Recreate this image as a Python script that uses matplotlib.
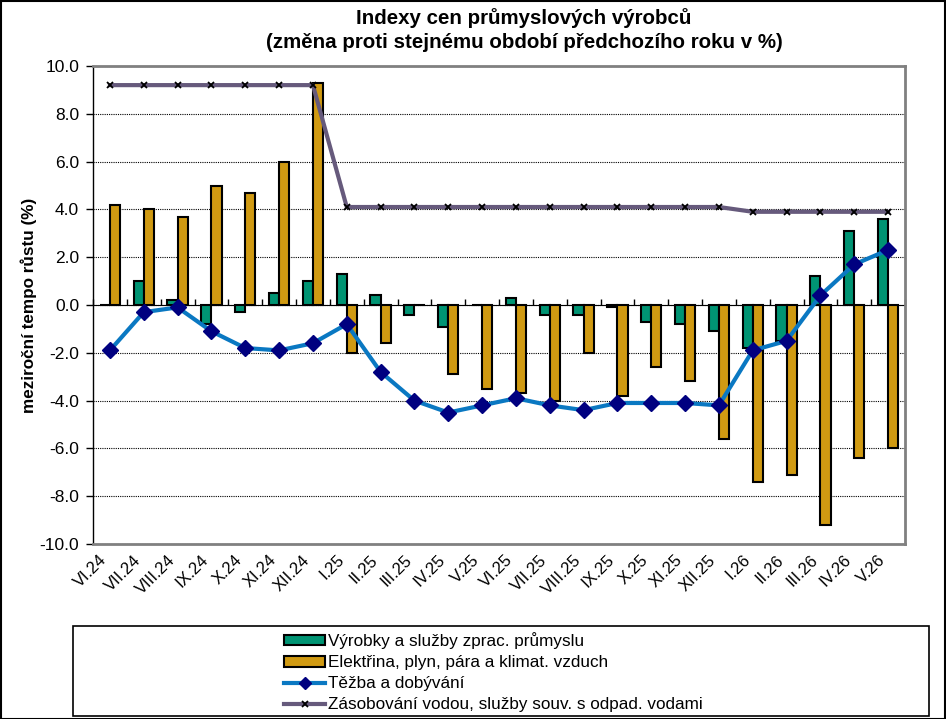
import numpy as np
import matplotlib
matplotlib.use("Agg")
import matplotlib.pyplot as plt
from matplotlib.patches import Rectangle, Patch
from matplotlib.lines import Line2D

plt.rcParams['font.family'] = ['Liberation Sans', 'DejaVu Sans']

categories = ["VI.24", "VII.24", "VIII.24", "IX.24", "X.24", "XI.24", "XII.24",
              "I.25", "II.25", "III.25", "IV.25", "V.25", "VI.25", "VII.25",
              "VIII.25", "IX.25", "X.25", "XI.25", "XII.25",
              "I.26", "II.26", "III.26", "IV.26", "V.26"]

vyrobky = [0.0, 1.0, 0.2, -0.8, -0.3, 0.5, 1.0,
           1.3, 0.4, -0.4, -0.9, 0.0, 0.3, -0.4,
           -0.4, -0.1, -0.7, -0.8, -1.1,
           -1.8, -1.5, 1.2, 3.1, 3.6]

elektrina = [4.2, 4.0, 3.7, 5.0, 4.7, 6.0, 9.3,
             -2.0, -1.6, 0.0, -2.9, -3.5, -3.7, -4.0,
             -2.0, -3.8, -2.6, -3.2, -5.6,
             -7.4, -7.1, -9.2, -6.4, -6.0]

tezba = [-1.9, -0.3, -0.1, -1.1, -1.8, -1.9, -1.6,
         -0.8, -2.8, -4.0, -4.5, -4.2, -3.9, -4.2,
         -4.4, -4.1, -4.1, -4.1, -4.2,
         -1.9, -1.5, 0.4, 1.7, 2.3]

voda = [9.2, 9.2, 9.2, 9.2, 9.2, 9.2, 9.2,
        4.1, 4.1, 4.1, 4.1, 4.1, 4.1, 4.1,
        4.1, 4.1, 4.1, 4.1, 4.1,
        3.9, 3.9, 3.9, 3.9, 3.9]

series_names = ["Výrobky a služby zprac. průmyslu",
                "Elektřina, plyn, pára a klimat. vzduch",
                "Těžba a dobývání",
                "Zásobování vodou, služby souv. s odpad. vodami"]

c_green = "#009473"
c_orange = "#D09A12"
c_blue = "#0A78C2"
c_navy = "#000080"
c_purple = "#665A7C"

W, H = 946, 719
fig = plt.figure(figsize=(W / 100, H / 100), dpi=100)
ax = fig.add_axes([93 / W, 1 - 544 / H, (905 - 93) / W, (544 - 66) / H])

x = np.arange(len(categories))
bw = 0.3
ax.bar(x - bw / 2, vyrobky, width=bw, color=c_green, edgecolor="black", linewidth=1.5, zorder=3)
ax.bar(x + bw / 2, elektrina, width=bw, color=c_orange, edgecolor="black", linewidth=1.5, zorder=3)
ax.plot(x, voda, color=c_purple, linewidth=3, marker="x", markersize=4.5,
        markeredgecolor="black", markeredgewidth=1.3, zorder=4)
ax.plot(x, tezba, color=c_blue, linewidth=3, marker="D", markersize=8.5,
        markerfacecolor=c_navy, markeredgecolor=c_navy, zorder=5)

ax.set_xlim(-0.5, len(categories) - 0.5)
ax.set_ylim(-10, 10)
ax.set_yticks(np.arange(-10, 10.1, 2))
ax.set_yticklabels([f"{v:.1f}" for v in np.arange(-10, 10.1, 2)], fontsize=12.5)
ax.tick_params(axis="y", direction="out", length=5, width=1, pad=5, colors="black")
ax.yaxis.grid(True, color="black", linestyle=(0, (1, 1)), linewidth=0.8, zorder=0)
ax.set_axisbelow(True)

ax.set_xticks(x)
ax.set_xticklabels(categories, rotation=45, ha="right", va="top", fontsize=12)
ax.tick_params(axis="x", length=0, pad=6)

for s in ["top", "right", "bottom"]:
    ax.spines[s].set_color("#808080")
    ax.spines[s].set_linewidth(2)
ax.spines["left"].set_color("black")
ax.spines["left"].set_linewidth(1)

sec = ax.secondary_xaxis(0.5)
sec.set_xticks(np.arange(-0.5, len(categories), 1))
sec.set_xticklabels([])
sec.tick_params(direction="out", length=4, width=1, colors="black")
sec.spines["bottom"].set_color("black")
sec.spines["bottom"].set_linewidth(1)

ax.set_ylabel("meziroční tempo růstu (%)", fontsize=12.3, fontweight="bold")
ax.yaxis.set_label_coords(-(93 - 37) / (905 - 93), 0.5)

fig.text(524 / W, 1 - 18 / H, "Indexy cen průmyslových výrobců", ha="center", va="center",
         fontsize=14.8, fontweight="bold")
fig.text(524 / W, 1 - 42 / H, "(změna proti stejnému období předchozího roku v %)", ha="center",
         va="center", fontsize=14.8, fontweight="bold")

# legend box
fig.patches.append(Rectangle((73 / W, 1 - 716 / H), (929 - 73) / W, (716 - 626) / H,
                             transform=fig.transFigure, fill=False, edgecolor="black",
                             linewidth=1.2))
handles = [Patch(facecolor=c_green, edgecolor="black", linewidth=1.5),
           Patch(facecolor=c_orange, edgecolor="black", linewidth=1.5),
           Line2D([], [], color=c_blue, linewidth=3, marker="D", markersize=6,
                  markerfacecolor=c_navy, markeredgecolor=c_navy),
           Line2D([], [], color=c_purple, linewidth=3, marker="x", markersize=4.5,
                  markeredgecolor="black", markeredgewidth=1.3)]
fig.legend(handles, series_names, loc="upper left", bbox_to_anchor=(284 / W, 1 - 632 / H),
           frameon=False, fontsize=12.3, handlelength=2.4, handleheight=0.6,
           handletextpad=0.2, labelspacing=0.36, borderaxespad=0, borderpad=0)

# outer border
fig.patches.append(Rectangle((0.5 / W, 0.5 / H), 1 - 1.5 / W, 1 - 1.5 / H,
                             transform=fig.transFigure, fill=False, edgecolor="black",
                             linewidth=1.5))

fig.savefig("out.png", dpi=100)
